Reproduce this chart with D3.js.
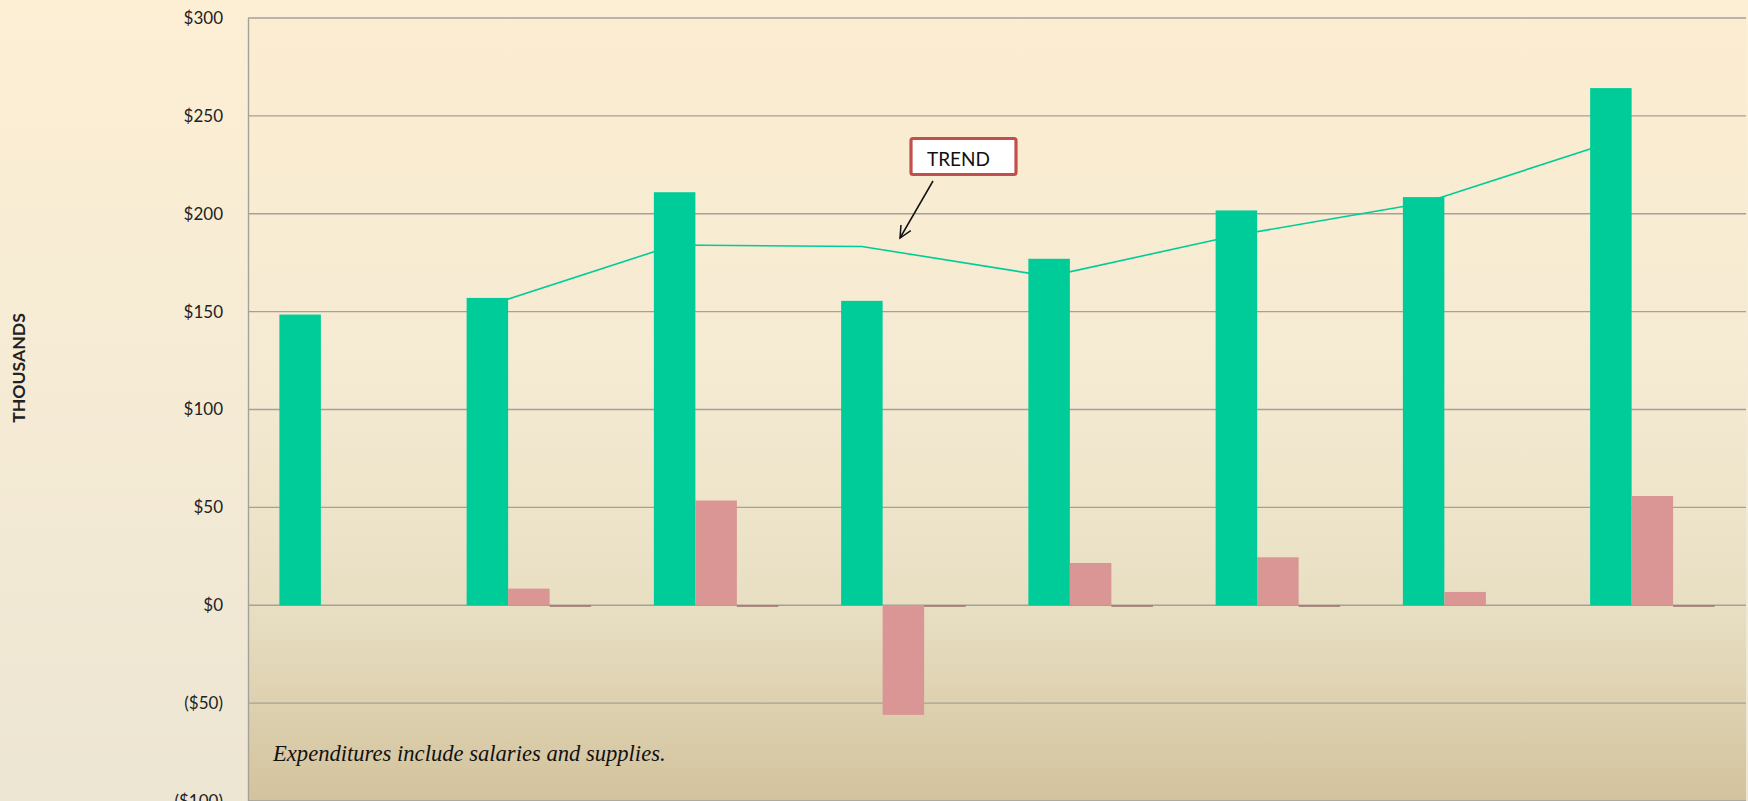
<!DOCTYPE html>
<html>
<head>
<meta charset="utf-8">
<script src="https://cdn.jsdelivr.net/npm/d3@7"></script>
<style>
  html, body { margin: 0; padding: 0; background: #fdefd4; }
  svg { display: block; }
</style>
</head>
<body>
<svg id="chart" width="1748" height="801"></svg>
<script>
// ---- data (thousands of dollars) ----
const categories = ["P1", "P2", "P3", "P4", "P5", "P6", "P7", "P8"];
const seriesKeys = ["main", "change", "adjust"];
const mainValues   = [148.5, 157, 211, 155.5, 177, 201.7, 208.5, 264.2];
const changeValues = [0, 8.5, 53.5, -56, 21.6, 24.5, 6.8, 55.8];
const adjustValues = [0, -0.8, -0.8, -0.8, -0.8, -0.8, 0, -0.8];
const trendValues  = [null, 153, 184, 183.3, 168, 189, 205.5, 236.5];
const tickValues   = [-100, -50, 0, 50, 100, 150, 200, 250, 300];
const axisTitle = "THOUSANDS";
const calloutText = "TREND";
const noteText = "Expenditures include salaries and supplies.";

const seriesValues = { main: mainValues, change: changeValues, adjust: adjustValues };
const seriesColors = { main: "#00cc99", change: "#d99694", adjust: "#a3776f" };

// ---- layout ----
const W = 1748, H = 801;
const plot = { left: 248, right: 1746, top: 18, bottom: 801 };

const svg = d3.select("#chart");
const defs = svg.append("defs");

// page background gradient
const bgGrad = defs.append("linearGradient").attr("id", "bgGrad")
  .attr("x1", 0).attr("y1", 0).attr("x2", 0).attr("y2", 1);
bgGrad.append("stop").attr("offset", "0%").attr("stop-color", "#fdefd4");
bgGrad.append("stop").attr("offset", "50%").attr("stop-color", "#f5ebd5");
bgGrad.append("stop").attr("offset", "100%").attr("stop-color", "#ede6d3");

// plot area gradient
const plotGrad = defs.append("linearGradient").attr("id", "plotGrad")
  .attr("x1", 0).attr("y1", 0).attr("x2", 0).attr("y2", 1);
plotGrad.append("stop").attr("offset", "0%").attr("stop-color", "#fcedd1");
plotGrad.append("stop").attr("offset", "45%").attr("stop-color", "#f5ebd3");
plotGrad.append("stop").attr("offset", "75%").attr("stop-color", "#e8dfc3");
plotGrad.append("stop").attr("offset", "100%").attr("stop-color", "#d3c39d");

svg.append("rect").attr("width", W).attr("height", H).attr("fill", "url(#bgGrad)");
svg.append("rect")
  .attr("x", plot.left).attr("y", plot.top)
  .attr("width", plot.right - plot.left).attr("height", plot.bottom - plot.top)
  .attr("fill", "url(#plotGrad)");

// ---- scales ----
const y = d3.scaleLinear().domain([-100, 300]).range([plot.bottom, plot.top]);
const x = d3.scaleBand().domain(categories).range([plot.left, plot.right])
  .paddingInner(0).paddingOuter(0);
const xSub = d3.scaleBand().domain(seriesKeys).range([0, x.bandwidth()])
  .paddingInner(0).paddingOuter(0.756);

// ---- gridlines ----
svg.append("g")
  .selectAll("line")
  .data(tickValues)
  .join("line")
  .attr("x1", plot.left).attr("x2", plot.right)
  .attr("y1", d => y(d)).attr("y2", d => y(d))
  .attr("stroke", "#a3a19b").attr("stroke-width", 1.4);

// ---- y axis ----
const fmt = v => v < 0 ? "($" + Math.abs(v) + ")" : "$" + v;
const yAxis = d3.axisLeft(y).tickValues(tickValues).tickFormat(fmt).tickSize(0).tickPadding(25);
const axisG = svg.append("g").attr("transform", `translate(${plot.left},0)`).call(yAxis);
axisG.select(".domain").attr("stroke", "#a3a19b").attr("stroke-width", 1.4);
axisG.selectAll("text")
  .attr("font-family", "Lato, 'Open Sans', sans-serif")
  .attr("font-size", 17).attr("fill", "#222");

svg.append("text")
  .attr("transform", `translate(25,368) rotate(-90)`)
  .attr("text-anchor", "middle")
  .attr("font-family", "Lato, 'Open Sans', sans-serif")
  .attr("font-weight", "bold")
  .attr("font-size", 17.6)
  .attr("fill", "#222")
  .text(axisTitle);

// ---- trend line (drawn beneath the bars) ----
const trendPts = categories.map((c, i) => ({ c, v: trendValues[i] }));
const line = d3.line()
  .defined(d => d.v !== null)
  .x(d => x(d.c) + xSub("main") + xSub.bandwidth() / 2)
  .y(d => y(d.v));
svg.append("path")
  .datum(trendPts)
  .attr("d", line)
  .attr("fill", "none")
  .attr("stroke", "#00cc99")
  .attr("stroke-width", 1.6);

// ---- bars ----
const groups = svg.append("g")
  .selectAll("g")
  .data(categories)
  .join("g")
  .attr("transform", c => `translate(${x(c)},0)`);

groups.selectAll("rect")
  .data((c, i) => seriesKeys.map(k => ({ k, v: seriesValues[k][i] })))
  .join("rect")
  .attr("x", d => xSub(d.k))
  .attr("width", xSub.bandwidth())
  .attr("y", d => y(Math.max(0, d.v)))
  .attr("height", d => Math.abs(y(d.v) - y(0)))
  .attr("fill", d => seriesColors[d.k]);

// ---- callout ----
const callout = svg.append("g");
callout.append("rect")
  .attr("x", 911).attr("y", 138.5).attr("width", 105).attr("height", 36)
  .attr("rx", 2)
  .attr("fill", "#ffffff").attr("stroke", "#c0504d").attr("stroke-width", 3.2);
callout.append("text")
  .attr("x", 927).attr("y", 166)
  .attr("font-family", "Lato, 'Open Sans', sans-serif")
  .attr("font-size", 19).attr("fill", "#111")
  .text(calloutText);

const ax1 = 933, ay1 = 181, ax2 = 900, ay2 = 238;
callout.append("line")
  .attr("x1", ax1).attr("y1", ay1).attr("x2", ax2).attr("y2", ay2)
  .attr("stroke", "#111").attr("stroke-width", 1.5);
const ang = Math.atan2(ay2 - ay1, ax2 - ax1);
const headLen = 13, headSpread = 0.45;
const hp = [
  [ax2 - headLen * Math.cos(ang - headSpread), ay2 - headLen * Math.sin(ang - headSpread)],
  [ax2, ay2],
  [ax2 - headLen * Math.cos(ang + headSpread), ay2 - headLen * Math.sin(ang + headSpread)]
];
callout.append("path")
  .attr("d", d3.line()(hp))
  .attr("fill", "none").attr("stroke", "#111").attr("stroke-width", 1.5);

// ---- footnote ----
svg.append("text")
  .attr("x", 273).attr("y", 761)
  .attr("font-family", "'Liberation Serif', 'Times New Roman', serif")
  .attr("font-style", "italic")
  .attr("font-size", 22.6).attr("fill", "#111")
  .text(noteText);
</script>
</body>
</html>
